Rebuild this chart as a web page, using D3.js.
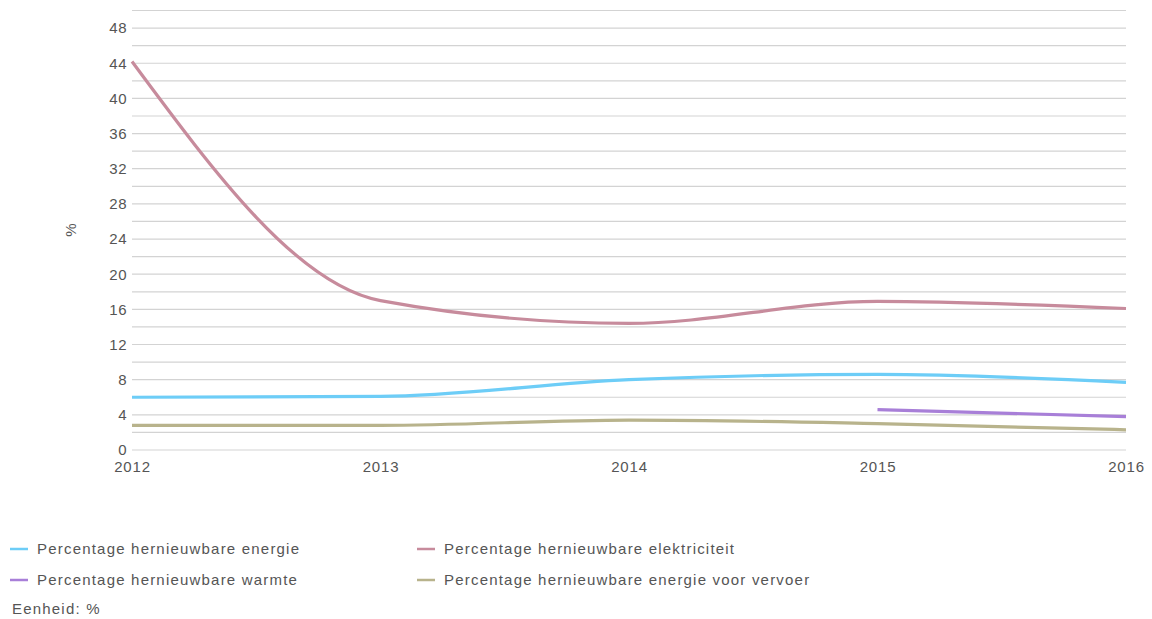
<!DOCTYPE html>
<html><head><meta charset="utf-8">
<script src="https://cdn.jsdelivr.net/npm/d3@7"></script>
<style>body{margin:0;background:#fff}text{font-family:"Liberation Sans",Arial,sans-serif}</style>
</head><body>
<svg id="c" width="1152" height="619"></svg>
<script>
const years = [2012, 2013, 2014, 2015, 2016];
const energie = [6.0, 6.1, 8.0, 8.6, 7.7];
const elektriciteit = [44.2, 17.0, 14.4, 16.9, 16.1];
const warmte = [null, null, null, 4.6, 3.8];
const vervoer = [2.8, 2.8, 3.4, 3.0, 2.3];
const seriesNames = ["Percentage hernieuwbare energie", "Percentage hernieuwbare elektriciteit", "Percentage hernieuwbare warmte", "Percentage hernieuwbare energie voor vervoer"];
const colors = ["#6dcdf7", "#c78b9c", "#a87fd8", "#b8b38c"];
const yTicks = [0, 4, 8, 12, 16, 20, 24, 28, 32, 36, 40, 44, 48];
const series = [energie, elektriciteit, warmte, vervoer];

const svg = d3.select("#c");
const x = d3.scaleLinear().domain([2012, 2016]).range([132, 1126]);
const y = d3.scaleLinear().domain([0, 50]).range([450, 10.5]);

const grid = d3.range(0, 51, 2);
svg.append("g").selectAll("line").data(grid).join("line")
  .attr("x1", x(2012)).attr("x2", x(2016))
  .attr("y1", d => y(d)).attr("y2", d => y(d))
  .attr("stroke", "#d3d3d3").attr("stroke-width", 1.2);

const yAxis = svg.append("g").attr("transform", `translate(${x(2012)},0)`)
  .call(d3.axisLeft(y).tickValues(yTicks).tickSize(0).tickPadding(5));
yAxis.select(".domain").remove();
yAxis.selectAll("text").attr("font-size", 15).attr("letter-spacing", 0.5).attr("fill", "#555").attr("font-family", "Liberation Sans, Arial, sans-serif");

const xAxis = svg.append("g").attr("transform", `translate(0,${y(0)})`)
  .call(d3.axisBottom(x).tickValues(years).tickFormat(d3.format("d")).tickSize(0).tickPadding(11));
xAxis.select(".domain").remove();
xAxis.selectAll("text").attr("font-size", 15).attr("letter-spacing", 0.8).attr("fill", "#555").attr("font-family", "Liberation Sans, Arial, sans-serif");

svg.append("text").attr("transform", `translate(76,230) rotate(-90)`)
  .attr("text-anchor", "middle").attr("font-size", 15).attr("fill", "#555").text("%");

const line = d3.line().defined(d => d[1] != null)
  .x(d => x(d[0])).y(d => y(d[1])).curve(d3.curveMonotoneX);

series.forEach((s, i) => {
  const pts = years.map((yr, j) => [yr, s[j]]).filter(d => d[1] != null);
  svg.append("path").attr("d", line(pts)).attr("fill", "none")
    .attr("stroke", colors[i]).attr("stroke-width", 3.2).attr("stroke-linecap", "butt");
});

const legPos = [[10, 549], [417, 549], [10, 580], [417, 580]];
seriesNames.forEach((n, i) => {
  const [lx, ly] = legPos[i];
  svg.append("line").attr("x1", lx).attr("x2", lx + 18).attr("y1", ly).attr("y2", ly)
    .attr("stroke", colors[i]).attr("stroke-width", 2.5);
  svg.append("text").attr("x", lx + 27).attr("y", ly + 5).attr("font-size", 15)
    .attr("letter-spacing", 1.2).attr("fill", "#555").text(n);
});
svg.append("text").attr("x", 12).attr("y", 614).attr("font-size", 15).attr("letter-spacing", 1.2).attr("fill", "#555").text("Eenheid: %");
</script>
</body></html>
